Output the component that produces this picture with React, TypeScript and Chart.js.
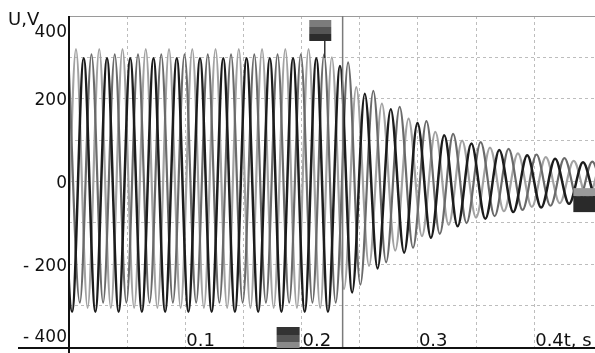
import React, { useEffect, useRef } from "react";
import { Chart, registerables } from "chart.js";
Chart.register(...registerables);

// Times (s) of the positive peaks of the first phase
const cycleTimes = [
  -0.014, 0.006, 0.026, 0.046, 0.066, 0.086, 0.106, 0.126, 0.146, 0.166, 0.186,
  0.206, 0.226, 0.247, 0.269, 0.292, 0.315, 0.338, 0.362, 0.386, 0.41, 0.434,
  0.458, 0.482,
];
// Positive peak value (V) of each cycle
const peakEnvelope = [
  320, 320, 320, 320, 320, 320, 320, 320, 320, 320, 320, 320, 300, 228, 188, 152,
  120, 99, 82, 68, 59, 50, 44, 40,
];
// Negative peak magnitude (V) following each positive peak
const troughEnvelope = [
  315, 315, 315, 315, 315, 315, 315, 315, 315, 315, 315, 315, 268, 210, 172, 136,
  108, 90, 74, 63, 54, 47, 42, 38,
];
// Phases: name, lag (fraction of period), peak gain, trough gain, colour, width
const phaseNames = ["Ua", "Ub", "Uc"];
const phaseLag = [0, 1 / 3, 2 / 3];
const phasePeakGain = [1.0, 0.93, 0.96];
const phaseTroughGain = [0.97, 1.0, 0.93];
const phaseColors = ["#a2a2a2", "#1c1c1c", "#6a6a6a"];
const phaseWidths = [2.2, 2.5, 2.2];

const xTickLabels = [0.1, 0.2, 0.3, 0.4];
const yTickLabels = [400, 200, 0, -200, -400];
const cursorTime = 0.2353;

function buildPhase(k: number) {
  const pts: { x: number; y: number }[] = [];
  for (let i = 0; i < cycleTimes.length; i++) {
    const P =
      i + 1 < cycleTimes.length
        ? cycleTimes[i + 1] - cycleTimes[i]
        : cycleTimes[i] - cycleTimes[i - 1];
    const tp = cycleTimes[i] + phaseLag[k] * P;
    pts.push({ x: tp, y: peakEnvelope[i] * phasePeakGain[k] });
    pts.push({ x: tp + P / 2, y: -troughEnvelope[i] * phaseTroughGain[k] });
  }
  return pts;
}

const decorPlugin = {
  id: "decor",
  afterDraw(chart: any) {
    const ctx = chart.ctx as CanvasRenderingContext2D;
    const { left, right, top, bottom } = chart.chartArea;
    const xs = chart.scales.x;
    const ys = chart.scales.y;
    ctx.save();
    // top border
    ctx.strokeStyle = "#9a9a9a";
    ctx.lineWidth = 1;
    ctx.beginPath();
    ctx.moveTo(left, top + 0.5);
    ctx.lineTo(right, top + 0.5);
    ctx.stroke();
    // cursor line
    const cx = xs.getPixelForValue(cursorTime);
    ctx.strokeStyle = "#7a7a7a";
    ctx.lineWidth = 1.5;
    ctx.beginPath();
    ctx.moveTo(cx, top);
    ctx.lineTo(cx, bottom);
    ctx.stroke();
    // axes
    ctx.strokeStyle = "#111";
    ctx.lineWidth = 2;
    ctx.beginPath();
    ctx.moveTo(left, top);
    ctx.lineTo(left, chart.height);
    ctx.stroke();
    ctx.beginPath();
    ctx.moveTo(18, bottom + 1);
    ctx.lineTo(right, bottom + 1);
    ctx.stroke();

    // markers
    const band = (x: number, y: number, w: number, hs: number[], cols: string[]) => {
      let yy = y;
      for (let i = 0; i < hs.length; i++) {
        ctx.fillStyle = cols[i];
        ctx.fillRect(x, yy, w, hs[i]);
        yy += hs[i];
      }
    };
    const tm = xs.getPixelForValue(0.2195);
    band(tm - 15, top + 4, 22, [7, 7, 7], ["#7c7c7c", "#555", "#2c2c2c"]);
    ctx.strokeStyle = "#333";
    ctx.lineWidth = 1.5;
    ctx.beginPath();
    ctx.moveTo(tm + 0.5, top + 25);
    ctx.lineTo(tm + 0.5, top + 42);
    ctx.stroke();
    const bm = xs.getPixelForValue(0.188);
    band(bm - 11, bottom - 20, 23, [8, 7, 6], ["#333", "#555", "#8a8a8a"]);
    const rmx = xs.getPixelForValue(0.444);
    const rmy = ys.getPixelForValue(-45);
    band(rmx - 12, rmy - 12, 24, [8, 16], ["#9a9a9a", "#2a2a2a"]);

    // labels
    ctx.fillStyle = "#111";
    ctx.font = '17px "DejaVu Sans"';
    ctx.textAlign = "right";
    ctx.textBaseline = "middle";
    for (const v of yTickLabels) {
      let py = ys.getPixelForValue(v) + 2;
      py = Math.min(Math.max(py, top + 17), bottom - 9);
      const txt = v < 0 ? "- " + String(-v) : String(v);
      ctx.fillText(txt, left - 2, py);
    }
    ctx.font = '18px "DejaVu Sans"';
    ctx.textAlign = "left";
    ctx.fillText("U,V", 8, 20);
    ctx.textBaseline = "alphabetic";
    for (const v of xTickLabels) {
      const px = xs.getPixelForValue(v) + 1;
      ctx.fillText(v === 0.4 ? "0.4t, s" : String(v), px, bottom - 1);
    }
    ctx.restore();
  },
};

export default function App() {
  const ref = useRef<HTMLCanvasElement>(null);
  useEffect(() => {
    if (!ref.current) return;
    const datasets = [1, 2, 0].map((k) => ({
      label: phaseNames[k],
      data: buildPhase(k),
      borderColor: phaseColors[k],
      borderWidth: phaseWidths[k],
      pointRadius: 0,
      cubicInterpolationMode: "monotone" as const,
      fill: false,
    }));
    const chart = new Chart(ref.current, {
      type: "line",
      data: { datasets },
      options: {
        responsive: false,
        animation: false,
        events: [],
        layout: { padding: { left: 69, top: 16, right: 0, bottom: 6 } },
        plugins: { legend: { display: false }, tooltip: { enabled: false } },
        scales: {
          x: {
            type: "linear",
            min: 0,
            max: 0.4523,
            ticks: { display: false, stepSize: 0.05 },
            grid: { color: "#bdbdbd", lineWidth: 1, drawTicks: false },
            border: { display: false, dash: [3, 3] },
          },
          y: {
            type: "linear",
            min: -400,
            max: 400,
            ticks: { display: false, stepSize: 100 },
            grid: { color: "#bdbdbd", lineWidth: 1, drawTicks: false },
            border: { display: false, dash: [3, 3] },
          },
        },
      },
      plugins: [decorPlugin],
    });
    return () => chart.destroy();
  }, []);
  return (
    <div style={{ position: "absolute", left: 0, top: 0, width: 595, height: 353, background: "#fff" }}>
      <canvas ref={ref} width={595} height={353} />
    </div>
  );
}
